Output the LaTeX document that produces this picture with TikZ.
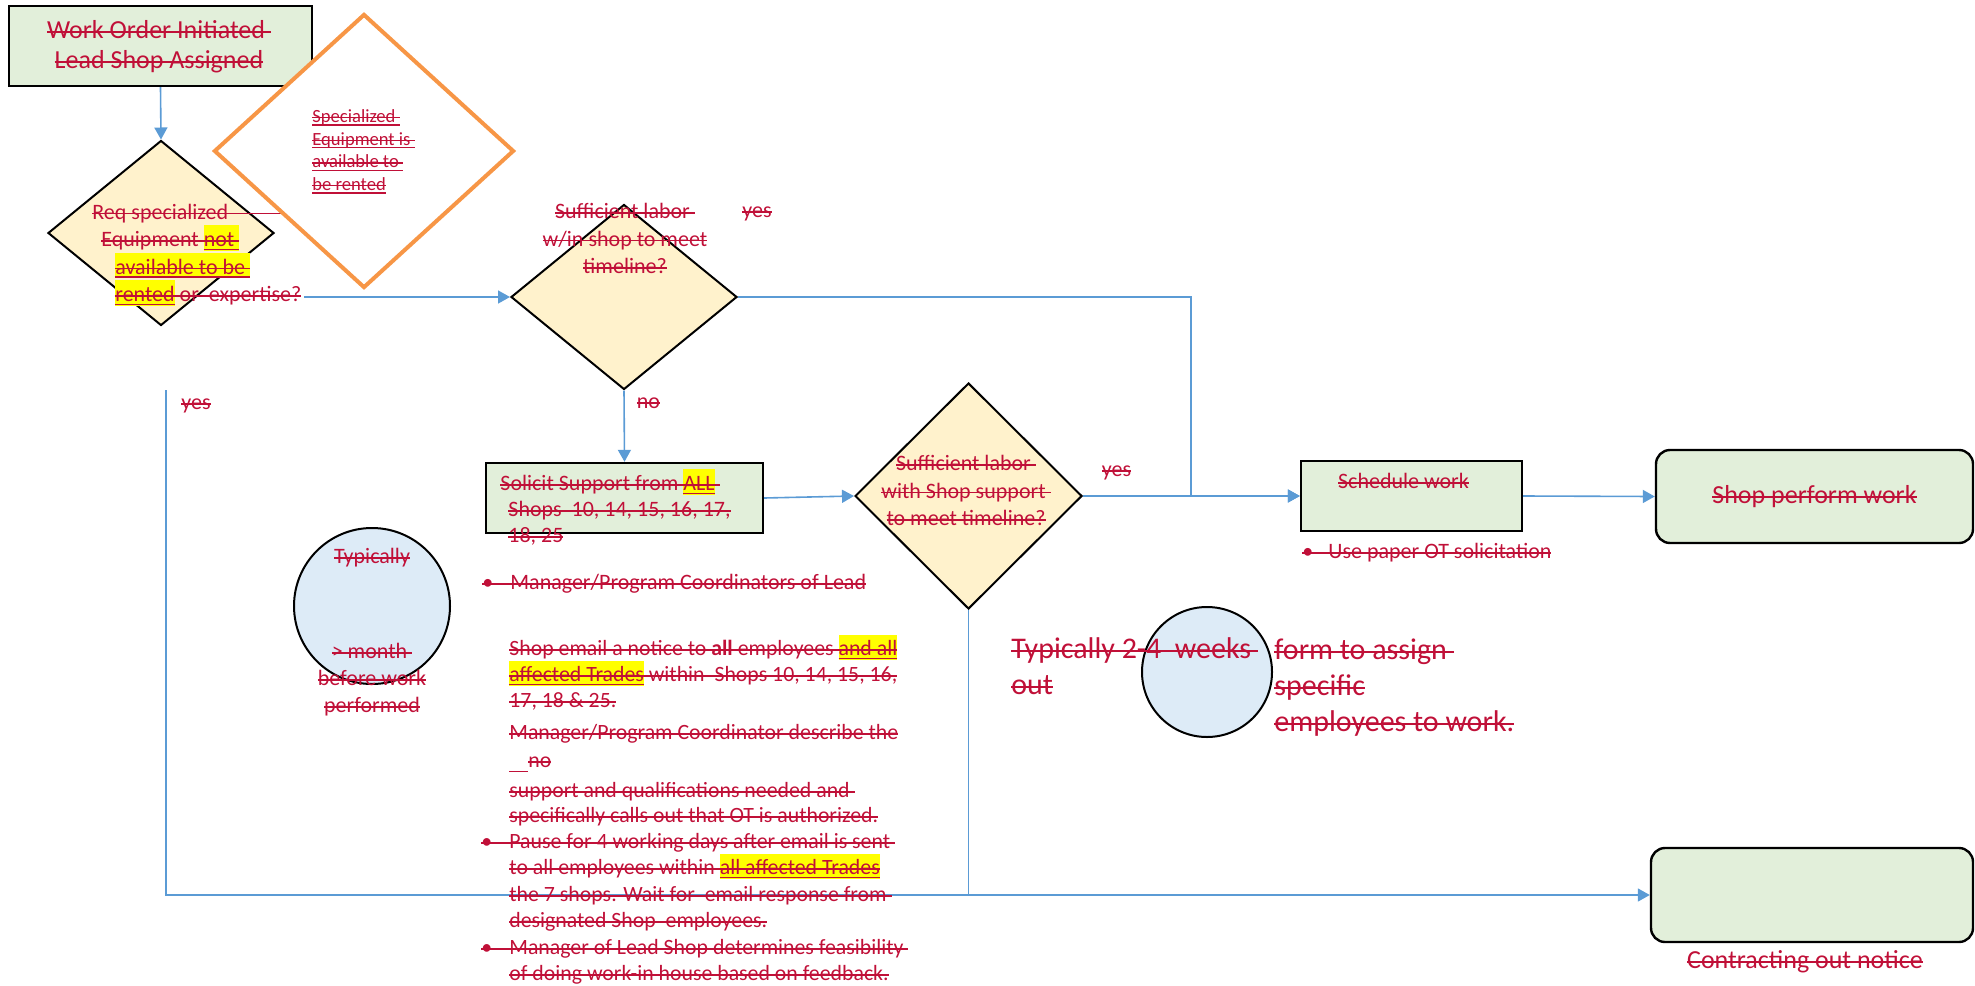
\documentclass[tikz,border=0pt]{standalone}
\usepackage{fontspec}
\setmainfont{Carlito}
\usetikzlibrary{shapes.geometric,arrows.meta}
\definecolor{delred}{RGB}{192,16,56}
\definecolor{boxgreen}{RGB}{226,239,218}
\definecolor{diafill}{RGB}{255,242,204}
\definecolor{circblue}{RGB}{221,235,247}
\definecolor{orangeline}{RGB}{247,150,70}
\definecolor{linkblue}{RGB}{91,155,213}
\definecolor{hlyellow}{RGB}{255,255,0}
\tikzstyle{greenbox}=[rectangle,draw=black,line width=1.2pt,fill=boxgreen,inner sep=0pt]
\tikzstyle{roundbox}=[greenbox,rounded corners=7pt]
\tikzstyle{decision}=[diamond,draw=black,line width=1pt,fill=diafill,inner sep=0pt]
\tikzstyle{bubble}=[circle,draw=black,line width=1pt,fill=circblue,inner sep=0pt]
\tikzstyle{link}=[linkblue,line width=0.8pt]
\tikzstyle{linkarrow}=[link,-{Triangle[length=6pt,width=6.5pt]}]
\tikzstyle{redtext}=[text=delred,inner sep=0pt,font=\fontsize{11}{13.75}\selectfont]
\tikzstyle{bigtext}=[redtext,font=\fontsize{13}{15}\selectfont]
\tikzstyle{hugetext}=[redtext,font=\fontsize{15}{17.8}\selectfont]
% struck text, optional extra strike length after it
\newcommand{\stk}[2][0pt]{\setbox0\hbox{#2}\copy0\relax\llap{\rule[.22em]{\wd0}{.07em}}\rule[.22em]{#1}{.07em}}
% highlighted and underlined
\newcommand{\hlu}[1]{\setbox0\hbox{#1}\rlap{\color{hlyellow}\rule[-.2em]{\wd0}{1.16em}}\rlap{\rule[-.17em]{\wd0}{.065em}}\copy0\relax}
\newcommand{\ulx}[1]{\setbox0\hbox{#1}\rlap{\rule[-.17em]{\wd0}{.065em}}\copy0\relax}
\newcommand{\bul}[1][13pt]{\llap{\stk{\makebox[#1][l]{\textbullet}}}}

\begin{document}
\begin{tikzpicture}[x=0.5pt,y=-0.5pt]
\useasboundingbox (0,0) rectangle (1975,985);

% shapes
\node[greenbox,minimum width=151.5pt,minimum height=40pt] (wo) at (160.5,46) {};
\node[decision,minimum width=113pt,minimum height=92.5pt] (d1) at (161,233) {};
\node[decision,minimum width=113pt,minimum height=92.5pt] (d2) at (624,297) {};
\node[decision,minimum width=113.5pt,minimum height=113pt] (d3) at (968.5,496) {};
\node[greenbox,minimum width=138.5pt,minimum height=35pt] (sol) at (624.5,498) {};
\node[greenbox,minimum width=110.5pt,minimum height=35pt] (sched) at (1411.5,496) {};
\node[roundbox,bigtext,minimum width=158.5pt,minimum height=46.5pt] (shop) at (1814.5,496.5) {\stk{Shop perform work}};
\node[roundbox,minimum width=161pt,minimum height=47pt] (ctr) at (1812,895) {};
\node[bubble,minimum size=78pt] (c1) at (372,606) {};
\node[bubble,minimum size=65pt] (c2) at (1207,672) {};

% connectors
\coordinate (exq) at (304,297);
\coordinate (jn) at (1191,297);
\coordinate (yesleft) at (166,390);
\draw[linkarrow] (wo.south) -- (d1.north);
\draw[linkarrow] (exq) -- (d2.west);
\draw[linkarrow] (d2.east) -- (jn) |- (sched.west);
\draw[linkarrow] (d2.south) -- (sol.north);
\draw[linkarrow] (sol.east) -- (d3.west);
\draw[linkarrow] (d3.east) -- (sched.west);
\draw[linkarrow] (sched.east) -- (shop.west);
\draw[linkarrow] (yesleft) |- (ctr.west);
\draw[link] (d3.south) -- (d3.south |- ctr.west);

% multi-line texts sit on the baseline of their last line
\node[bigtext,align=center,anchor=base] (wotext) at (159,68.5)
  {\stk{Work Order Initiated\ }\\\stk{Lead Shop Assigned}};
\node[redtext,align=left,anchor=base west] (d1text) at (92,301.5)
  {\stk[26.5pt]{Req specialized}\\\hspace*{4.5pt}\stk{Equipment \hlu{not\ }}\\\hspace*{11.5pt}\stk{\hlu{available to be\ }}\\\hspace*{11.5pt}\stk{\hlu{rented} or\ \ expertise?}};

\node[diamond,draw=orangeline,line width=2pt,fill=white,inner sep=0pt,minimum width=150pt,minimum height=137pt] (od) at (364,151) {};
\node[redtext,font=\fontsize{9.3}{11.35}\selectfont,align=left,anchor=base west] (odtext) at (312,190.5)
  {\stk{\ulx{Specialized\ }}\\\stk{\ulx{Equipment is\ }}\\\stk{\ulx{available to\ }}\\\stk{\ulx{be rented}}};

% texts
\node[redtext,align=center,anchor=base] (d2text) at (625,273.5)
  {\stk{Sufficient labor\ }\\\stk{w/in shop to meet}\\\stk{timeline?}};
\node[redtext,anchor=base] (yestop) at (757,217.5) {\stk{yes}};
\node[redtext,anchor=base] (nolabel) at (648.5,408.5) {\stk{no}};
\node[redtext,anchor=base] (yesleftlabel) at (196,409.5) {\stk{yes}};
\node[redtext,anchor=base] (yesmid) at (1116.5,476.5) {\stk{yes}};
\node[redtext,font=\fontsize{11}{13}\selectfont,align=left,anchor=base west] (soltext) at (500,542.5)
  {\stk{Solicit Support from \hlu{ALL}\ }\\\hspace*{4pt}\stk{Shops\ \ 10, 14, 15, 16, 17,}\\\hspace*{4pt}\stk{18, 25}};
\node[redtext,align=center,anchor=base] (d3text) at (966,525.5)
  {\stk{Sufficient labor\ }\\\stk{with Shop support\ }\\\stk{to meet timeline?}};
\node[redtext,anchor=base] (schedtext) at (1403.5,488.5) {\stk{Schedule work}};
\node[redtext,anchor=base west] (otnote) at (1328,558.5) {\bul\stk{Use paper OT solicitation}};
\node[redtext,font=\fontsize{11}{13.5}\selectfont,align=center,anchor=base] (c1text) at (372,712.5)
  {\stk{Typically}\\[34pt]\stk{> month\ }\\\stk{before work}\\\stk{performed}};
\node[redtext,anchor=base west] (mgrnote) at (510,589.5) {\bul[14pt]\stk{Manager/Program Coordinators of Lead}};
\node[redtext,font=\fontsize{10.9}{13}\selectfont,align=left,anchor=base west] (mailtext) at (509,980.5)
  {\stk{Shop email a notice to \textbf{all} employees \hlu{and all}}\\
   \stk{\hlu{affected Trades} within\ \ Shops 10, 14, 15, 16,}\\
   \stk{17, 18 \& 25.}\\[3pt]
   \stk{Manager/Program Coordinator describe the}\\[1pt]
   \rule[-2.3pt]{9.5pt}{0.7pt}\stk{no}\\[2pt]
   \stk{support and qualifications needed and\ }\\[-0.5pt]
   \stk{specifically calls out that OT is authorized.}\\
   \bul[14pt]\stk{Pause for 4 working days after email is sent\ }\\
   \stk{to all employees within \hlu{all affected Trades}}\\[0.5pt]
   \stk{the 7 shops. Wait for\ \ email response from\ }\\
   \stk{designated Shop\ \ employees.}\\[0.5pt]
   \bul[14pt]\stk{Manager of Lead Shop determines feasibility\ }\\
   \stk{of doing work-in house based on feedback.}};
\node[hugetext,align=left,anchor=base west] (c2left) at (1011,694.5) {\stk{Typically 2-4\ \ weeks\ }\\\stk{out}};
\node[hugetext,font=\fontsize{15}{17.9}\selectfont,align=left,anchor=base west] (c2right) at (1274,731.5)
  {\stk{form to assign\ }\\\stk{specific}\\\stk{employees to work.}};
\node[bigtext,anchor=base] (ctrtext) at (1805,968.5) {\stk{Contracting out notice}};
\end{tikzpicture}
\end{document}
